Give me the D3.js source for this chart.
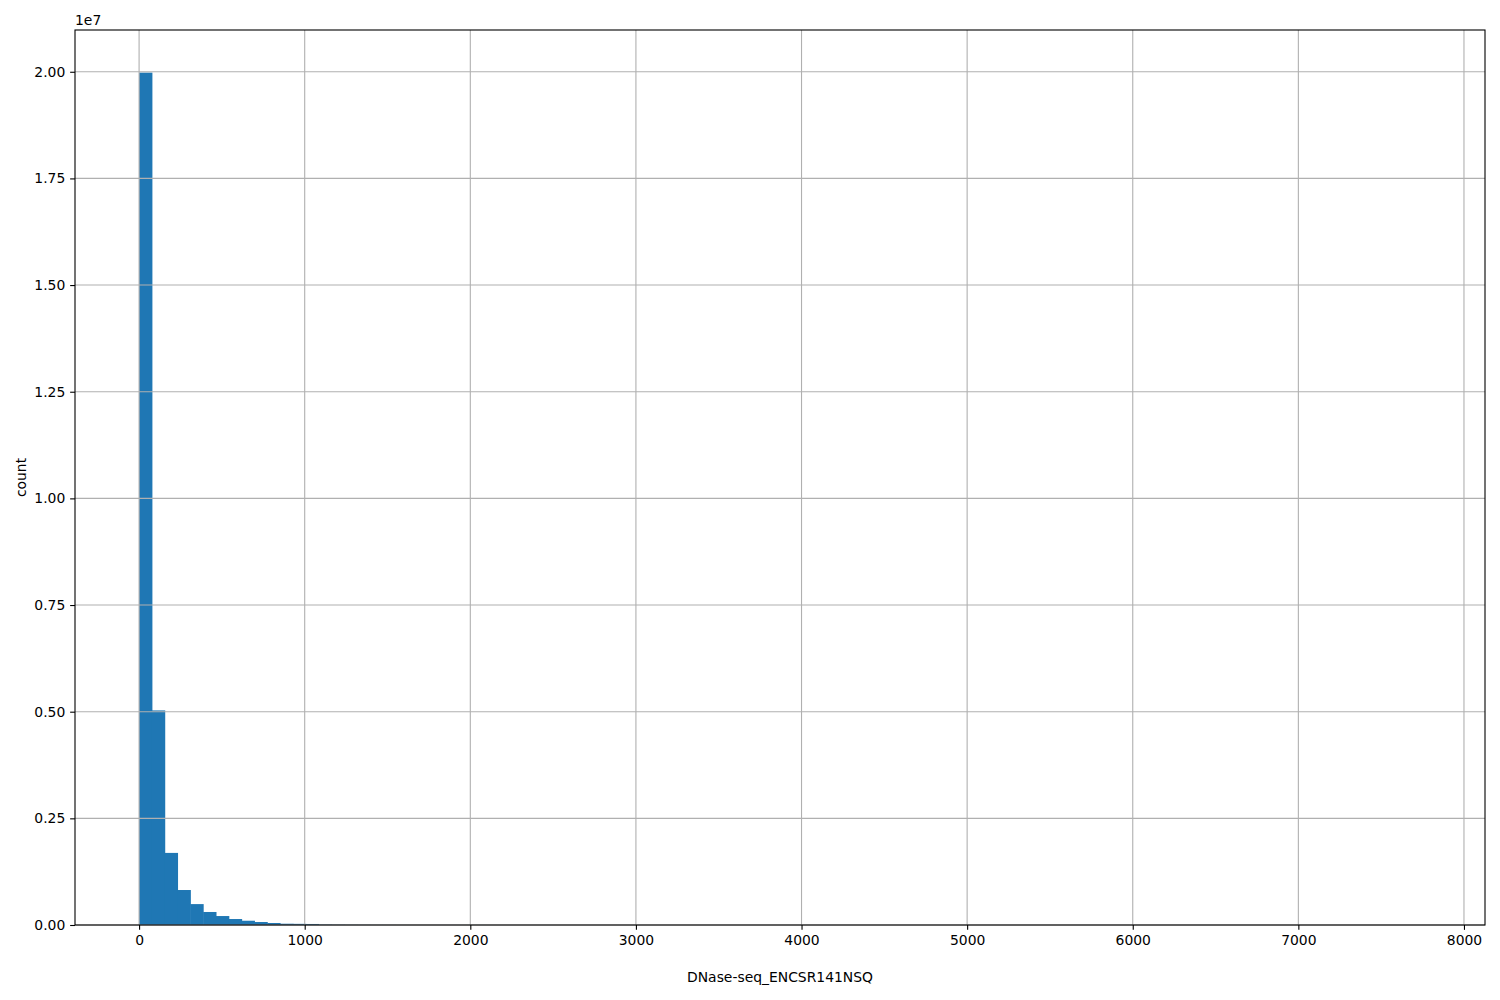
<!DOCTYPE html>
<html><head><meta charset="utf-8">
<script src="https://cdn.jsdelivr.net/npm/d3@7"></script>
<style>body{margin:0;background:#fff;} text{font-family:"DejaVu Sans",sans-serif;}</style>
</head><body>
<svg id="c" width="1500" height="1000"></svg>
<script>
const binStart = 0;
const binEnd = 7740;
const nBins = 100;
// counts for the first bins, remaining bins near zero
const counts = [19980000, 5030000, 1690000, 820000, 490000, 305000, 210000, 140000, 100000, 70000, 47000, 30000, 27000, 24000,
  9000, 6000, 4000, 3000, 2000, 1500, 1000, 800, 600, 500, 400, 300, 250, 200, 150, 120, 100, 80, 60, 50, 40, 30, 25, 20, 15, 12, 10, 8, 6, 5, 4, 3, 3, 2, 2, 2,
  1, 1, 1, 1, 1, 1, 1, 1, 1, 1, 1, 1, 1, 1, 1, 0, 0, 1, 0, 0, 0, 0, 1, 0, 0, 0, 0, 0, 0, 1, 0, 0, 0, 0, 0, 0, 0, 0, 0, 0, 0, 0, 0, 0, 0, 0, 0, 0, 0, 1];
const xTicks = [0, 1000, 2000, 3000, 4000, 5000, 6000, 7000, 8000];
const yTicks = [0, 2500000, 5000000, 7500000, 10000000, 12500000, 15000000, 17500000, 20000000];
const xLabel = "DNase-seq_ENCSR141NSQ";
const yLabel = "count";

const L = 75, R = 1485, T = 30, B = 925;
const FS = "13.9px";
const svg = d3.select("#c");
const span = binEnd - binStart;
const x = d3.scaleLinear().domain([binStart - 0.05 * span, binEnd + 0.05 * span]).range([L, R]);
const yMax = d3.max(counts) * 1.05;
const y = d3.scaleLinear().domain([0, yMax]).range([B, T]);
const w = span / nBins;
const bins = counts.map((c, i) => ({x0: binStart + i * w, x1: binStart + (i + 1) * w, c}));

svg.append("g").selectAll("rect").data(bins).join("rect")
  .attr("x", d => x(d.x0)).attr("width", d => x(d.x1) - x(d.x0) + 0.5)
  .attr("y", d => y(d.c)).attr("height", d => B - y(d.c))
  .attr("fill", "#1f77b4");

// grid
const g = svg.append("g");
g.selectAll(".vx").data(xTicks).join("line")
  .attr("x1", d => x(d)).attr("x2", d => x(d)).attr("y1", T).attr("y2", B)
  .attr("stroke", "#b0b0b0").attr("stroke-width", 1.1);
g.selectAll(".hy").data(yTicks).join("line")
  .attr("x1", L).attr("x2", R).attr("y1", d => y(d)).attr("y2", d => y(d))
  .attr("stroke", "#b0b0b0").attr("stroke-width", 1.1);

// axes
const xAxis = d3.axisBottom(x).tickValues(xTicks).tickSize(4.86).tickPadding(4.86).tickFormat(d3.format("d"));
const yAxis = d3.axisLeft(y).tickValues(yTicks).tickSize(4.86).tickPadding(4.86).tickFormat(d => (d / 1e7).toFixed(2));
const gx = svg.append("g").attr("transform", `translate(0,${B})`).call(xAxis);
const gy = svg.append("g").attr("transform", `translate(${L},0)`).call(yAxis);
[gx, gy].forEach(a => {
  a.select(".domain").remove();
  a.selectAll("line").attr("stroke", "#000").attr("stroke-width", 1.1);
  a.selectAll("text").attr("font-size", FS).attr("fill", "#000").style("font-family", "DejaVu Sans");
});

svg.append("rect").attr("x", L).attr("y", T).attr("width", R - L).attr("height", B - T)
  .attr("fill", "none").attr("stroke", "#000").attr("stroke-width", 1.1);

svg.append("text").attr("x", L).attr("y", T - 5).attr("font-size", FS).text("1e7");
svg.append("text").attr("x", (L + R) / 2).attr("y", 982).attr("text-anchor", "middle").attr("font-size", FS).text(xLabel);
svg.append("text").attr("transform", `translate(26,${(T + B) / 2}) rotate(-90)`).attr("text-anchor", "middle").attr("font-size", FS).text(yLabel);
</script>
</body></html>
